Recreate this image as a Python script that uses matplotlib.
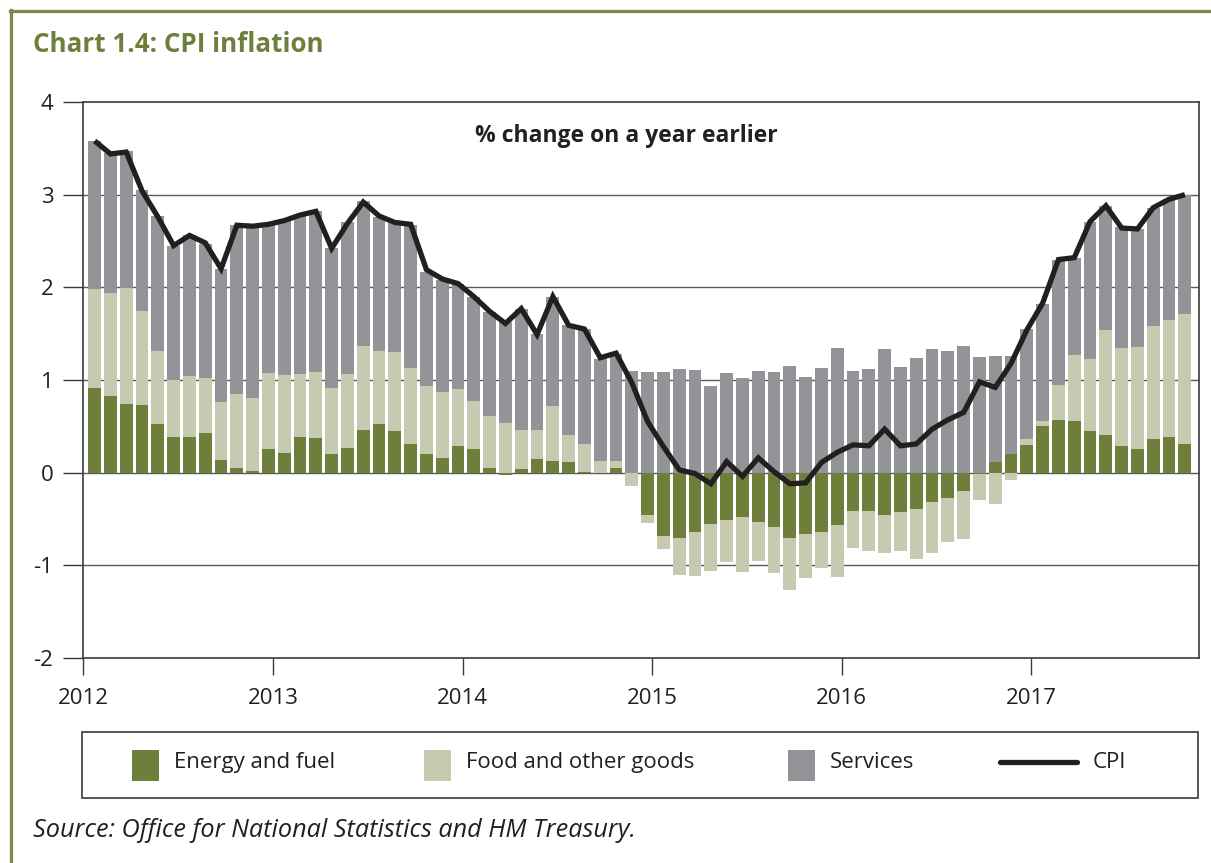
import matplotlib
matplotlib.use("Agg")
import matplotlib.pyplot as plt
from matplotlib.patches import Rectangle
from matplotlib.lines import Line2D
import numpy as np

# ---------------- data (percentage-point contributions, Jan 2012 - Oct 2017) ----------------
year_labels = ["2012", "2013", "2014", "2015", "2016", "2017"]
y_tick_labels = ["-2", "-1", "0", "1", "2", "3", "4"]
series_names = ["Energy and fuel", "Food and other goods", "Services", "CPI"]

energy = [0.91, 0.83, 0.74, 0.73, 0.52, 0.38, 0.38, 0.43, 0.14, 0.05, 0.02, 0.25,
          0.21, 0.38, 0.37, 0.20, 0.27, 0.46, 0.53, 0.45, 0.31, 0.20, 0.16, 0.29,
          0.25, 0.05, -0.02, 0.04, 0.15, 0.13, 0.12, 0.01, 0.00, 0.05, 0.00, -0.46,
          -0.68, -0.71, -0.64, -0.55, -0.51, -0.48, -0.53, -0.59, -0.71, -0.66, -0.64, -0.56,
          -0.41, -0.41, -0.46, -0.42, -0.39, -0.32, -0.27, -0.20, -0.01, 0.11, 0.20, 0.30,
          0.50, 0.57, 0.56, 0.45, 0.41, 0.29, 0.25, 0.36, 0.38, 0.31]

food = [1.07, 1.11, 1.25, 1.02, 0.79, 0.62, 0.66, 0.59, 0.62, 0.80, 0.79, 0.83,
        0.84, 0.68, 0.72, 0.71, 0.80, 0.91, 0.78, 0.85, 0.82, 0.73, 0.71, 0.61,
        0.52, 0.56, 0.54, 0.42, 0.31, 0.59, 0.29, 0.30, 0.13, 0.08, -0.14, -0.08,
        -0.14, -0.39, -0.47, -0.51, -0.45, -0.59, -0.42, -0.49, -0.56, -0.48, -0.39, -0.57,
        -0.40, -0.43, -0.41, -0.43, -0.54, -0.55, -0.48, -0.52, -0.28, -0.34, -0.08, 0.06,
        0.06, 0.38, 0.71, 0.78, 1.13, 1.05, 1.11, 1.22, 1.27, 1.40]

services = [1.60, 1.51, 1.48, 1.30, 1.46, 1.45, 1.52, 1.45, 1.44, 1.82, 1.84, 1.60,
            1.68, 1.72, 1.73, 1.51, 1.63, 1.56, 1.45, 1.39, 1.54, 1.24, 1.21, 1.14,
            1.13, 1.12, 1.09, 1.31, 1.04, 1.18, 1.18, 1.24, 1.10, 1.15, 1.10, 1.09,
            1.09, 1.12, 1.11, 0.94, 1.08, 1.02, 1.10, 1.09, 1.15, 1.03, 1.13, 1.35,
            1.10, 1.12, 1.33, 1.14, 1.24, 1.33, 1.31, 1.37, 1.25, 1.15, 1.06, 1.19,
            1.26, 1.35, 1.05, 1.48, 1.34, 1.31, 1.27, 1.28, 1.30, 1.29]

cpi = [3.58, 3.44, 3.46, 3.04, 2.76, 2.45, 2.56, 2.48, 2.20, 2.67, 2.66, 2.68,
       2.72, 2.78, 2.82, 2.42, 2.69, 2.92, 2.77, 2.70, 2.68, 2.19, 2.09, 2.04,
       1.90, 1.74, 1.61, 1.77, 1.49, 1.90, 1.59, 1.55, 1.24, 1.29, 0.97, 0.55,
       0.28, 0.03, -0.01, -0.12, 0.12, -0.04, 0.16, 0.01, -0.12, -0.11, 0.11, 0.22,
       0.30, 0.29, 0.47, 0.29, 0.31, 0.47, 0.57, 0.65, 0.98, 0.92, 1.18, 1.54,
       1.83, 2.30, 2.32, 2.71, 2.88, 2.64, 2.63, 2.86, 2.95, 3.00]

# ---------------- styling ----------------
FONT = ["Open Sans", "DejaVu Sans"]
plt.rcParams["font.family"] = FONT
C_ENERGY = "#6e7f3b"
C_FOOD = "#c7cab0"
C_SERV = "#939498"
C_CPI = "#231f20"
C_FRAME = "#7b8b45"
C_TITLE = "#6d7f3a"
C_AX = "#3a3a3a"

W, H = 1211, 863
fig = plt.figure(figsize=(W / 100, H / 100), dpi=100)

def fx(px):
    return px / W

def fy(py):
    return 1 - py / H

ax_left, ax_right, ax_top, ax_bottom = 83.3, 1199, 102, 658
ax = fig.add_axes([fx(ax_left), fy(ax_bottom), fx(ax_right - ax_left), (ax_bottom - ax_top) / H])

n = len(cpi)
x = np.arange(n) + 0.72
comps = [np.array(energy), np.array(food), np.array(services)]
colors = [C_ENERGY, C_FOOD, C_SERV]
pos_base = np.zeros(n)
neg_base = np.zeros(n)
for vals, col in zip(comps, colors):
    bottoms = np.where(vals >= 0, pos_base, neg_base)
    ax.bar(x, vals, bottom=bottoms, width=0.81, color=col, edgecolor="none", zorder=2)
    pos_base = pos_base + np.where(vals >= 0, vals, 0)
    neg_base = neg_base + np.where(vals < 0, vals, 0)

ax.plot(x, cpi, color=C_CPI, lw=3.8, solid_joinstyle="miter", solid_capstyle="butt", zorder=3)

ax.set_xlim(0, (ax_right - ax_left) / 15.8)
ax.set_ylim(-2, 4)
ax.set_yticks(np.arange(-2, 5))
ax.set_yticklabels(y_tick_labels)
ax.set_xticks(np.arange(len(year_labels)) * 12)
ax.set_xticklabels(year_labels)
for v in range(-1, 4):
    ax.axhline(v, color="#5a5a5a", lw=1.0, zorder=1)

for s in ax.spines.values():
    s.set_color(C_AX)
    s.set_linewidth(1.2)
ax.tick_params(axis="y", direction="out", length=14.5, width=1.0, color=C_AX,
               labelsize=16, labelcolor="#231f20", pad=7)
ax.tick_params(axis="x", direction="out", length=12.5, width=1.0, color=C_AX,
               labelsize=16, labelcolor="#231f20", pad=9)

fig.text(fx(626.5), fy(136.5), "% change on a year earlier", ha="center",
         va="center", fontsize=16.5, fontweight="bold", color="#231f20")

# ---------------- frame & title ----------------
fig.add_artist(Line2D([fx(10), fx(W)], [fy(11.5), fy(11.5)], color=C_FRAME, lw=2.3))
fig.add_artist(Line2D([fx(11), fx(11)], [fy(10.5), fy(H)], color=C_FRAME, lw=2.3))
fig.text(fx(33), fy(45), "Chart 1.4: CPI inflation", ha="left", va="center",
         fontsize=18.7, fontweight="bold", color=C_TITLE)

# ---------------- legend (manual box) ----------------
lg_top, lg_bot = 732, 798
fig.add_artist(Rectangle((fx(82), fy(lg_bot)), fx(1198 - 82), (lg_bot - lg_top) / H,
                         fill=False, edgecolor=C_AX, lw=1.2))
ly = (lg_top + lg_bot) / 2
swatches = [(132, 174, C_ENERGY), (424, 466, C_FOOD), (788, 830, C_SERV)]
for (sx, tx, col), name in zip(swatches, series_names[:3]):
    fig.add_artist(Rectangle((fx(sx), fy(ly + 15.5)), fx(27), 31 / H, facecolor=col, edgecolor="none"))
    fig.text(fx(tx), fy(ly - 3), name, ha="left", va="center", fontsize=16, color="#231f20")
fig.add_artist(Line2D([fx(1000), fx(1077)], [fy(ly - 3), fy(ly - 3)], color=C_CPI, lw=3.8,
                      solid_capstyle="round"))
fig.text(fx(1093), fy(ly - 3), series_names[3], ha="left", va="center", fontsize=16, color="#231f20")

fig.text(fx(33), fy(830), "Source: Office for National Statistics and HM Treasury.",
         ha="left", va="center", fontsize=18.2, style="italic", color="#231f20")

fig.savefig("out.png", dpi=100)
